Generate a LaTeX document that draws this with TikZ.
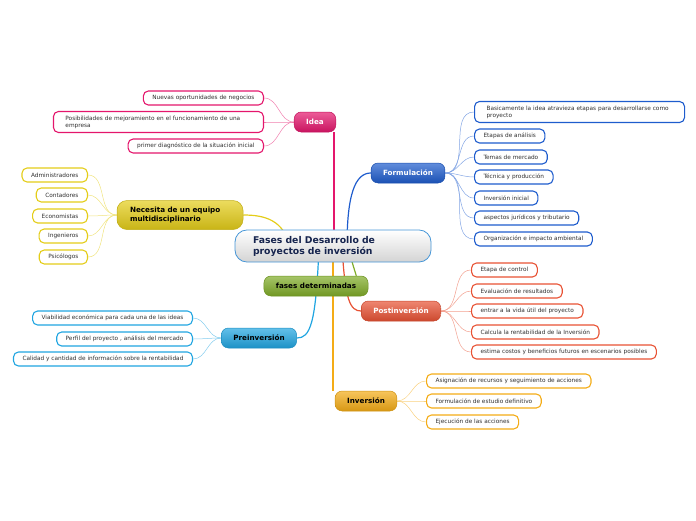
\documentclass[tikz,border=0pt]{standalone}
\usepackage{fontspec}
\setmainfont{DejaVu Sans}
\usetikzlibrary{backgrounds}
\definecolor{ideapink}{RGB}{228,22,108}
\definecolor{teamyellow}{RGB}{228,205,25}
\definecolor{phasegreen}{RGB}{128,172,40}
\definecolor{preblue}{RGB}{32,165,225}
\definecolor{formblue}{RGB}{30,92,205}
\definecolor{postred}{RGB}{232,82,52}
\definecolor{invorange}{RGB}{244,172,22}
\definecolor{centreline}{RGB}{70,150,215}
\definecolor{centretext}{RGB}{22,36,78}
\definecolor{leaftext}{RGB}{50,50,50}

\begin{document}
\begin{tikzpicture}[x=1pt,y=-1pt,line cap=round,line join=round,
 leaf/.style={draw=#1,fill=white,line width=1.1pt,rounded corners=5pt,
  minimum height=14pt,inner xsep=9pt,inner ysep=2pt,text=leaftext,
  font=\fontsize{5.8}{6.9}\selectfont},
 twoline/.style={leaf=#1,text width=186pt,inner xsep=12pt,align=left,
  minimum height=21pt},
 topic/.style={top color=#1!70!white,bottom color=#1!88!black,
  draw=#1!85!black,line width=.5pt,rounded corners=7pt,minimum height=20pt,
  inner xsep=12pt,font=\fontsize{7.2}{8.6}\selectfont\bfseries},
 branch/.style={draw=#1,line width=1.2pt},
 twig/.style={draw=#1!55!white,line width=.5pt}]
 \useasboundingbox (0,0) rectangle (696,520);
 % central topic
 \node[top color=white,bottom color=black!17,draw=centreline,line width=.8pt,
  rounded corners=12pt,text width=160pt,inner xsep=18pt,inner ysep=6pt,
  align=left,text=centretext,font=\fontsize{9.3}{11}\selectfont\bfseries]
  (centro) at (333,246) {Fases del Desarrollo de\\proyectos de inversión};
 % main topics
 \node[topic=ideapink,text=white] (idea) at (315,122) {Idea};
 \node[topic=teamyellow,text width=100pt,inner xsep=13pt,align=left,
  minimum height=29pt,rounded corners=10pt] (equipo) at (180,215)
  {Necesita de un equipo\\multidisciplinario};
 \node[topic=phasegreen,text=black,inner xsep=12pt] (determ) at (316,286)
  {fases determinadas};
 \node[topic=preblue,text=black] (preinv) at (259,338) {Preinversión};
 \node[topic=formblue,text=white] (formul) at (408,173) {Formulación};
 \node[topic=postred,text=white] (postinv) at (401,311) {Postinversión};
 \node[topic=invorange,text=black] (inver) at (366,401) {Inversión};
 % Idea
 \node[leaf=ideapink,anchor=east] (id1) at (264,98)
  {Nuevas oportunidades de negocios};
 \node[twoline=ideapink,anchor=east] (id2) at (264,122)
  {Posibilidades de mejoramiento en el funcionamiento de una\\empresa};
 \node[leaf=ideapink,anchor=east] (id3) at (264,146)
  {primer diagnóstico de la situación inicial};
 % equipo
 \foreach \y/\t [count=\i] in {175/Administradores,195/Contadores,
  216/Economistas,236/Ingenieros,257/Psicólogos}
  {\node[leaf=teamyellow,anchor=east] (eq\i) at (88,\y) {\t};}
 % Preinversion
 \foreach \y/\t [count=\i] in {318/Viabilidad económica para cada una de las ideas,
  339/{Perfil del proyecto , análisis del mercado},
  359/Calidad y cantidad de información  sobre la rentabilidad}
  {\node[leaf=preblue,anchor=east] (pr\i) at (193,\y) {\t};}
 % Formulacion
 \node[twoline=formblue,anchor=west] (fo1) at (474,112)
  {Basicamente la idea atravieza etapas para desarrollarse como\\proyecto};
 \foreach \y/\t [count=\i from 2] in {136/Etapas de análisis,157/Temas de mercado,
  177/Técnica y producción,198/Inversión inicial,
  218/aspectos jurídicos y tributario,239/Organización e impacto ambiental}
  {\node[leaf=formblue,anchor=west] (fo\i) at (474,\y) {\t};}
 % Postinversion
 \foreach \y/\t [count=\i] in {270/Etapa de control,291/Evaluación de resultados,
  311/entrar a la vida útil del proyecto,
  332/Calcula la rentabilidad de la Inversión,
  352/estima costos y beneficios futuros en escenarios posibles}
  {\node[leaf=postred,anchor=west] (po\i) at (471,\y) {\t};}
 % Inversion
 \foreach \y/\t [count=\i] in {381/Asignación de recursos y seguimiento de acciones,
  401/Formulación de estudio definitivo,422/Ejecución de las acciones}
  {\node[leaf=invorange,anchor=west] (in\i) at (426,\y) {\t};}
 % connectors
 \begin{scope}[on background layer]
  \draw[branch=ideapink] ([xshift=-2pt]idea.south east)
   -- ([xshift=-2pt]idea.south east |- centro.center);
  \draw[branch=formblue] ([xshift=14pt]centro.center)
   .. controls (347,195) and (355,173) .. (formul.west);
  \draw[branch=teamyellow] ([xshift=-43pt]centro.center)
   .. controls (283,220) and (265,215) .. (equipo.east);
  \draw[branch=phasegreen] ([xshift=15pt]centro.center)
   .. controls (352,262) .. ([xshift=-12pt]determ.north east);
  \draw[branch=preblue] ([xshift=-14pt]centro.center)
   .. controls (316,325) and (310,338) .. (preinv.east);
  \draw[branch=postred] ([xshift=9pt]centro.center)
   .. controls (345,300) and (350,311) .. (postinv.west);
  \draw[branch=invorange] (centro.center) -- (centro.center |- inver.north);
  \foreach \i in {1,2,3}
   {\draw[twig=ideapink] (idea.west) to[out=180,in=0] (id\i.east);}
  \foreach \i in {1,...,5}
   {\draw[twig=teamyellow] (equipo.west) to[out=180,in=0] (eq\i.east);}
  \foreach \i in {1,2,3}
   {\draw[twig=preblue] (preinv.west) to[out=180,in=0] (pr\i.east);}
  \foreach \i in {1,...,7}
   {\draw[twig=formblue] (formul.east) to[out=0,in=180] (fo\i.west);}
  \foreach \i in {1,...,5}
   {\draw[twig=postred] (postinv.east) to[out=0,in=180] (po\i.west);}
  \foreach \i in {1,2,3}
   {\draw[twig=invorange] (inver.east) to[out=0,in=180] (in\i.west);}
 \end{scope}
\end{tikzpicture}
\end{document}
